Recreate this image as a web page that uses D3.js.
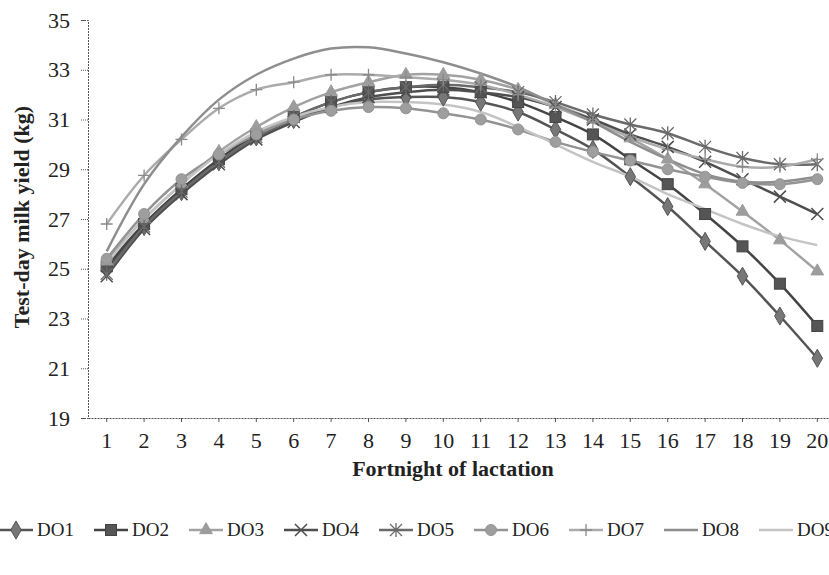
<!DOCTYPE html>
<html>
<head>
<meta charset="utf-8">
<script src="https://cdn.jsdelivr.net/npm/d3@7"></script>
<style>
  html, body { margin: 0; padding: 0; background: #fff; }
  svg { display: block; }
  svg text { font-family: "Liberation Serif", "Times New Roman", serif; }
</style>
</head>
<body>
<div id="viz"></div>
<script>
// fortnights of lactation
const fortnights = [1, 2, 3, 4, 5, 6, 7, 8, 9, 10, 11, 12, 13, 14, 15, 16, 17, 18, 19, 20];
const yTicks = [19, 21, 23, 25, 27, 29, 31, 33, 35];

// test-day milk yield (kg)
const DO1 = [25.0, 26.7, 28.1, 29.3, 30.3, 31.0, 31.5, 31.8, 31.9, 31.9, 31.7, 31.3, 30.6, 29.8, 28.7, 27.5, 26.1, 24.7, 23.1, 21.4];
const DO2 = [25.1, 26.8, 28.2, 29.4, 30.4, 31.1, 31.7, 32.1, 32.3, 32.3, 32.1, 31.7, 31.1, 30.4, 29.4, 28.4, 27.2, 25.9, 24.4, 22.7];
const DO3 = [25.3, 27.0, 28.4, 29.7, 30.7, 31.5, 32.1, 32.5, 32.8, 32.8, 32.6, 32.2, 31.6, 31.0, 30.25, 29.4, 28.4, 27.3, 26.15, 24.9];
const DO4 = [24.7, 26.6, 28.0, 29.2, 30.2, 30.9, 31.5, 31.9, 32.1, 32.2, 32.1, 31.9, 31.5, 31.0, 30.4, 29.9, 29.3, 28.6, 27.9, 27.2];
const DO5 = [24.8, 26.7, 28.1, 29.3, 30.3, 31.1, 31.7, 32.1, 32.3, 32.4, 32.3, 32.1, 31.7, 31.2, 30.8, 30.45, 29.9, 29.45, 29.2, 29.2];
const DO6 = [25.4, 27.2, 28.6, 29.6, 30.4, 31.0, 31.35, 31.5, 31.45, 31.25, 31.0, 30.6, 30.1, 29.7, 29.35, 29.0, 28.7, 28.45, 28.4, 28.6];
const DO7 = [26.8, 28.75, 30.2, 31.45, 32.2, 32.5, 32.8, 32.8, 32.7, 32.6, 32.4, 32.0, 31.5, 30.9, 30.3, 29.8, 29.4, 29.1, 29.1, 29.4];
const DO8 = [25.7, 28.4, 30.3, 31.8, 32.8, 33.45, 33.85, 33.9, 33.65, 33.3, 32.85, 32.3, 31.6, 30.9, 30.1, 29.4, 28.8, 28.5, 28.5, 28.7];
const DO9 = [25.2, 27.0, 28.4, 29.6, 30.5, 31.1, 31.5, 31.7, 31.7, 31.6, 31.3, 30.7, 30.0, 29.3, 28.7, 28.0, 27.4, 26.8, 26.3, 25.95];

const seriesNames = ["DO1", "DO2", "DO3", "DO4", "DO5", "DO6", "DO7", "DO8", "DO9"];
const seriesValues = [DO1, DO2, DO3, DO4, DO5, DO6, DO7, DO8, DO9];

// look of each series (grey scan)
const styles = {
  DO1: { line: "#555", fill: "#777", marker: "diamond" },
  DO2: { line: "#444", fill: "#555", marker: "square" },
  DO3: { line: "#a2a2a2", fill: "#9c9c9c", marker: "triangle" },
  DO4: { line: "#4e4e4e", fill: "none", marker: "x" },
  DO5: { line: "#6a6a6a", fill: "none", marker: "asterisk" },
  DO6: { line: "#939393", fill: "#9e9e9e", marker: "circle" },
  DO7: { line: "#ababab", fill: "none", marker: "plus" },
  DO8: { line: "#8e8e8e", fill: "none", marker: null },
  DO9: { line: "#c4c4c4", fill: "none", marker: null }
};

const width = 829, height = 575;
const svg = d3.select("#viz").append("svg")
  .attr("width", width)
  .attr("height", height);

const x = d3.scaleBand().domain(fortnights).range([88, 836]);
const cxOf = d => x(d) + x.bandwidth() / 2;
const y = d3.scaleLinear().domain([19, 35]).range([418, 20]);

const serif = "Liberation Serif, Times New Roman, serif";

// y axis
const yAxis = svg.append("g")
  .attr("transform", "translate(88,0)")
  .call(d3.axisLeft(y).tickValues(yTicks).tickSize(7).tickPadding(11));
yAxis.attr("font-family", null);
yAxis.select(".domain").attr("stroke", "#555").attr("stroke-dasharray", "2,1");
yAxis.selectAll(".tick line").attr("stroke", "#555").attr("stroke-dasharray", "1,1");
yAxis.selectAll(".tick text")
  .style("font-family", serif)
  .attr("font-size", 22)
  .attr("fill", "#222");

// x axis
const xAxis = svg.append("g")
  .attr("transform", "translate(0,418)")
  .call(d3.axisBottom(x).tickSize(4).tickPadding(10).tickSizeOuter(0));
xAxis.attr("font-family", null);
xAxis.select(".domain").attr("stroke", "#555").attr("stroke-dasharray", "2,1");
xAxis.selectAll(".tick line").attr("stroke", "#555");
xAxis.selectAll(".tick text")
  .style("font-family", serif)
  .attr("font-size", 22)
  .attr("fill", "#222");

// axis titles
svg.append("text")
  .attr("x", 453)
  .attr("y", 476)
  .attr("text-anchor", "middle")
  .style("font-family", serif)
  .attr("font-weight", "bold")
  .attr("font-size", 22)
  .attr("fill", "#222")
  .text("Fortnight of lactation");

svg.append("text")
  .attr("transform", "translate(29,217) rotate(-90)")
  .attr("text-anchor", "middle")
  .style("font-family", serif)
  .attr("font-weight", "bold")
  .attr("font-size", 22)
  .attr("fill", "#222")
  .text("Test-day milk yield (kg)");

// marker drawing
function drawMarker(g, kind, st, px, py) {
  if (kind === "diamond") {
    g.append("path").attr("d", d3.symbol(d3.symbolDiamond, 95)())
      .attr("transform", `translate(${px},${py})`)
      .attr("fill", st.fill).attr("stroke", st.line).attr("stroke-width", 1);
  } else if (kind === "square") {
    g.append("rect").attr("x", px - 5.5).attr("y", py - 5.5)
      .attr("width", 11).attr("height", 11)
      .attr("fill", st.fill).attr("stroke", st.line).attr("stroke-width", 1);
  } else if (kind === "triangle") {
    g.append("path").attr("d", d3.symbol(d3.symbolTriangle, 70)())
      .attr("transform", `translate(${px},${py})`)
      .attr("fill", st.fill).attr("stroke", st.fill).attr("stroke-width", 1);
  } else if (kind === "circle") {
    g.append("circle").attr("cx", px).attr("cy", py).attr("r", 5.5)
      .attr("fill", st.fill).attr("stroke", st.line).attr("stroke-width", 1);
  } else if (kind === "x") {
    const r = 6;
    g.append("path")
      .attr("d", `M${px - r},${py - r}L${px + r},${py + r}M${px - r},${py + r}L${px + r},${py - r}`)
      .attr("stroke", st.line).attr("stroke-width", 1.5).attr("fill", "none");
  } else if (kind === "asterisk") {
    const r = 6;
    g.append("path")
      .attr("d", `M${px - r},${py - r}L${px + r},${py + r}M${px - r},${py + r}L${px + r},${py - r}M${px},${py - r - 1}L${px},${py + r + 1}`)
      .attr("stroke", st.line).attr("stroke-width", 1.3).attr("fill", "none");
  } else if (kind === "plus") {
    const r = 6;
    g.append("path")
      .attr("d", `M${px - r},${py}L${px + r},${py}M${px},${py - r}L${px},${py + r}`)
      .attr("stroke", "#8a8a8a").attr("stroke-width", 1.3).attr("fill", "none");
  }
}

// smoothed lines, like excel
const line = d3.line()
  .x((d, i) => cxOf(fortnights[i]))
  .y(d => y(d))
  .curve(d3.curveCatmullRom.alpha(0.5));

const plot = svg.append("g");
seriesNames.forEach((name, k) => {
  const st = styles[name];
  plot.append("path")
    .datum(seriesValues[k])
    .attr("d", line)
    .attr("fill", "none")
    .attr("stroke", st.line)
    .attr("stroke-width", 2.5);
});

const marks = svg.append("g");
seriesNames.forEach((name, k) => {
  const st = styles[name];
  if (!st.marker) return;
  seriesValues[k].forEach((v, i) => {
    drawMarker(marks, st.marker, st, cxOf(fortnights[i]), y(v));
  });
});

// legend along the bottom (last entry runs off the page, as in the scan)
const legend = svg.append("g").attr("transform", "translate(0,530)");
seriesNames.forEach((name, k) => {
  const st = styles[name];
  const tx = 37 + k * 95;
  const g = legend.append("g");
  g.append("line")
    .attr("x1", tx - 38).attr("x2", tx - 4)
    .attr("y1", 0).attr("y2", 0)
    .attr("stroke", st.line)
    .attr("stroke-width", 2.5);
  if (st.marker) drawMarker(g, st.marker, st, tx - 21, 0);
  g.append("text")
    .attr("x", tx)
    .attr("y", 6)
    .style("font-family", serif)
    .attr("font-size", 19)
    .attr("fill", "#222")
    .text(name);
});
</script>
</body>
</html>
